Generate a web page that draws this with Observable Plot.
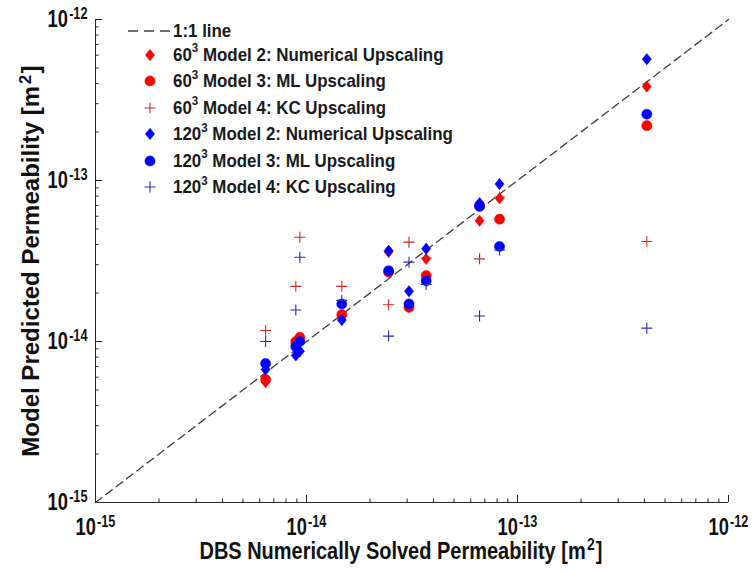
<!DOCTYPE html>
<html><head><meta charset="utf-8">
<script src="https://cdn.jsdelivr.net/npm/d3@7"></script>
<script src="https://cdn.jsdelivr.net/npm/@observablehq/plot@0.6"></script>
<style>
body{margin:0;background:#fff;}
#wrap{position:relative;width:753px;height:574px;}
#legend{position:absolute;left:127px;top:21px;font-weight:bold;color:#1a1a1a;}
#legend .row{display:flex;align-items:center;height:26.5px;white-space:nowrap;}
#legend .row.first{height:20.5px;}
#legend svg{width:46px;height:20px;flex:none;}
#legend .txt{display:inline-block;transform-origin:left center;}
#legend sup{position:relative;top:-1px;line-height:0;vertical-align:super;}
</style></head><body><div id="wrap"></div>
<script>
// ---- data ----
const xDBS = [6.4e-15, 8.9e-15, 9.3e-15, 1.47e-14, 2.45e-14, 3.06e-14, 3.69e-14, 6.61e-14, 8.22e-14, 4.10e-13];
const m2_60  = [5.6e-15, 9.6e-15, 1.0e-14, 1.43e-14, 3.6e-14, 1.7e-14, 3.26e-14, 5.62e-14, 7.76e-14, 3.83e-13];
const m3_60  = [5.8e-15, 1.0e-14, 1.06e-14, 1.47e-14, 2.7e-14, 1.63e-14, 2.57e-14, 7.0e-14, 5.75e-14, 2.19e-13];
const m4_60  = [1.17e-14, 2.2e-14, 4.44e-14, 2.2e-14, 1.69e-14, 4.14e-14, 3.3e-14, 3.26e-14, 7.9e-14, 4.18e-14];
const m2_120 = [6.7e-15, 8.2e-15, 8.7e-15, 1.36e-14, 3.66e-14, 2.05e-14, 3.77e-14, 7.23e-14, 9.5e-14, 5.67e-13];
const m3_120 = [7.3e-15, 9.3e-15, 1.0e-14, 1.71e-14, 2.75e-14, 1.71e-14, 2.38e-14, 6.9e-14, 3.89e-14, 2.58e-13];
const m4_120 = [1.0e-14, 1.57e-14, 3.34e-14, 1.8e-14, 1.08e-14, 3.11e-14, 2.26e-14, 1.44e-14, 3.7e-14, 1.21e-14];
const lineLabel = "1:1 line";
const seriesLabels = [
  ["60", "Model 2: Numerical Upscaling"],
  ["60", "Model 3: ML Upscaling"],
  ["60", "Model 4: KC Upscaling"],
  ["120", "Model 2: Numerical Upscaling"],
  ["120", "Model 3: ML Upscaling"],
  ["120", "Model 4: KC Upscaling"]
];
const domainLimits = [1e-15, 1e-12];
const majorTicks = [1e-15, 1e-14, 1e-13, 1e-12];
const minorMultipliers = [2, 3, 4, 5, 6, 7, 8, 9];
const xTitle = "DBS Numerically Solved Permeability [m^{2}]";
const yTitle = "Model Predicted Permeability [m^{2}]";

// ---- font detection: condensed bold like the reference ----
function hasFont(name) {
  const c = document.createElement("canvas").getContext("2d");
  const s = "Model Predicted Permeability 0123";
  c.font = "bold 40px monospace"; const a = c.measureText(s).width;
  c.font = `bold 40px '${name}', monospace`; const b = c.measureText(s).width;
  return Math.abs(a - b) > 0.5;
}
const NARROW = hasFont("Liberation Sans Narrow");
const WIDE_FONT = "'Liberation Sans', Arial, sans-serif";
const FONT = NARROW ? "'Liberation Sans Narrow', 'Liberation Sans', Arial, sans-serif" : WIDE_FONT;
const FONT_W = NARROW ? 0.82 : 1;     // width factor of chosen font
const TARGET_W = 0.82;                 // condensed look of the reference

// ---- styling ----
const RED = "#ff0000", BLUE = "#0000ff", RED_P = "#d42a2a", BLUE_P = "#2a2ab4";
const diamondSym = {draw(ctx, size){ const r = Math.sqrt(size/Math.PI); const h = r*1.12, w = r*0.9;
  ctx.moveTo(0,-h); ctx.lineTo(w,0); ctx.lineTo(0,h); ctx.lineTo(-w,0); ctx.closePath(); }};
const circleSym = {draw(ctx, size){ const r = Math.sqrt(size/Math.PI); ctx.moveTo(r,0); ctx.arc(0,0,r,0,2*Math.PI); }};
const plusSym = {draw(ctx, size){ const r = Math.sqrt(size/Math.PI);
  ctx.moveTo(-r,0); ctx.lineTo(r,0); ctx.moveTo(0,-r); ctx.lineTo(0,r); }};

const seriesDefs = [
  {vals: m2_60,  sym: diamondSym, color: RED,   fill: true,  r: 5.1},
  {vals: m3_60,  sym: circleSym,  color: RED,   fill: true,  r: 5.1},
  {vals: m4_60,  sym: plusSym,    color: RED_P, fill: false, r: 5.5},
  {vals: m2_120, sym: diamondSym, color: BLUE,  fill: true,  r: 5.1},
  {vals: m3_120, sym: circleSym,  color: BLUE,  fill: true,  r: 5.1},
  {vals: m4_120, sym: plusSym,    color: BLUE_P,fill: false, r: 5.5}
];

const minorTicks = majorTicks.slice(0, -1).flatMap(d => minorMultipliers.map(m => m*d));
const fmt = d => "10^{" + Math.round(Math.log10(d)) + "}";
const AX = "#262626";

const dotMarks = seriesDefs.map(s => {
  const data = xDBS.map((x, i) => ({x, y: s.vals[i]}));
  return Plot.dot(data, {x: "x", y: "y", symbol: s.sym, r: s.r,
    fill: s.fill ? s.color : "none", stroke: s.color,
    strokeWidth: s.fill ? 0.5 : 1.1});
});

const chart = Plot.plot({
  width: 753, height: 574,
  marginLeft: 95, marginRight: 25, marginTop: 19, marginBottom: 72,
  x: {type: "log", domain: domainLimits},
  y: {type: "log", domain: domainLimits},
  style: {fontFamily: FONT, background: "white", overflow: "visible"},
  marks: [
    Plot.line(domainLimits.map(d => ({x: d, y: d})), {x: "x", y: "y", stroke: "#3c3c3c", strokeWidth: 1.3, strokeDasharray: "8,5"}),
    ...dotMarks,
    Plot.ruleX([domainLimits[0]], {stroke: AX, strokeWidth: 1}),
    Plot.ruleY([domainLimits[0]], {stroke: AX, strokeWidth: 1}),
    Plot.axisX({ticks: minorTicks, tickSize: -3.5, fill: "none", stroke: AX, label: null}),
    Plot.axisX({ticks: majorTicks, tickSize: -7, fill: "none", stroke: AX, label: null}),
    Plot.axisY({ticks: minorTicks, tickSize: -3.5, fill: "none", stroke: AX, label: null}),
    Plot.axisY({ticks: majorTicks, tickSize: -7, fill: "none", stroke: AX, label: null}),
    Plot.axisX({ticks: majorTicks, tickSize: 0, tickPadding: 16, tickFormat: fmt, fontSize: 23, fontWeight: "bold", fill: "#111", label: null}),
    Plot.axisY({ticks: majorTicks, tickSize: 0, tickPadding: 8, tickFormat: fmt, fontSize: 23, fontWeight: "bold", fill: "#111", label: null}),
    Plot.text([xTitle], {frameAnchor: "bottom", dx: -11, dy: 56, text: d => d, fontSize: 24.5, fontWeight: "bold", fill: "#111"}),
    Plot.text([yTitle], {frameAnchor: "left", textAnchor: "middle", dx: -64, rotate: -90, text: d => d,
      fontSize: 24, fontWeight: "bold", fill: "#111"})
  ]
});
document.getElementById("wrap").appendChild(chart);

// superscripts: "a^{b}c" -> tspans, plus condensed squeeze if needed
d3.select(chart).selectAll("text").each(function() {
  const t = this.textContent;
  const isY = t.startsWith("Model Predicted");
  if (isY) this.style.fontFamily = WIDE_FONT;   // rotated title keeps full length
  if (t.includes("^{")) {
    const fs = parseFloat(getComputedStyle(this).fontSize) || 18;
    const supSize = Math.round(fs * 0.7);
    const rise = fs * 0.36;
    const parts = t.split(/\^\{([^}]*)\}/);
    this.textContent = "";
    const sel = d3.select(this);
    parts.forEach((p, i) => {
      if (p === "") return;
      if (i % 2 === 1) sel.append("tspan").attr("dy", -rise).attr("dx", 1.5).attr("font-size", supSize).text(p);
      else { const ts = sel.append("tspan").text(p); if (i > 0) ts.attr("dy", rise).attr("dx", 1.5); }
    });
  }
  if (!isY && FONT_W !== TARGET_W && this.textContent.length) {
    const L = this.getComputedTextLength();
    this.setAttribute("textLength", (L * TARGET_W / FONT_W).toFixed(1));
    this.setAttribute("lengthAdjust", "spacingAndGlyphs");
  }
});

// legend
const LFS = 19, LEG_SCALE = 0.89 / FONT_W;
const legend = d3.select("#wrap").append("div").attr("id", "legend")
  .style("font-family", FONT).style("font-size", LFS + "px");
const r0 = legend.append("div").attr("class", "row first");
const s0 = r0.append("svg");
s0.append("line").attr("x1", 1).attr("x2", 44).attr("y1", 10).attr("y2", 10)
  .attr("stroke", "#3c3c3c").attr("stroke-width", 1.3).attr("stroke-dasharray", "10,6");
r0.append("span").attr("class", "txt").style("transform", `scaleX(${LEG_SCALE})`).text(lineLabel);
seriesDefs.forEach((s, i) => {
  const row = legend.append("div").attr("class", "row");
  const sv = row.append("svg");
  const path = d3.path(); s.sym.draw(path, Math.PI * s.r * s.r);
  sv.append("path").attr("transform", "translate(23,10)").attr("d", path.toString())
    .attr("fill", s.fill ? s.color : "none").attr("stroke", s.color).attr("stroke-width", s.fill ? 0.5 : 1.1);
  const sp = row.append("span").attr("class", "txt").style("transform", `scaleX(${LEG_SCALE})`);
  sp.append("span").text(seriesLabels[i][0]);
  sp.append("sup").style("font-size", Math.round(LFS*0.68) + "px").text("3");
  sp.append("span").text(" " + seriesLabels[i][1]);
});
</script></body></html>
